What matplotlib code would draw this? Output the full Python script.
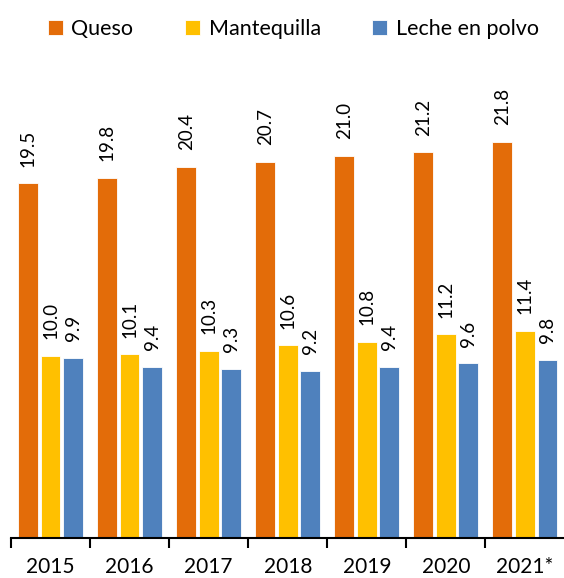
import matplotlib.pyplot as plt
import numpy as np

plt.rcParams['font.family'] = ['Lato', 'DejaVu Sans']

years = ['2015', '2016', '2017', '2018', '2019', '2020', '2021*']
queso = [19.5, 19.8, 20.4, 20.7, 21.0, 21.2, 21.8]
mantequilla = [10.0, 10.1, 10.3, 10.6, 10.8, 11.2, 11.4]
leche = [9.9, 9.4, 9.3, 9.2, 9.4, 9.6, 9.8]

series = [('Queso', queso, '#E36C09'),
          ('Mantequilla', mantequilla, '#FFC000'),
          ('Leche en polvo', leche, '#4F81BD')]

fig = plt.figure(figsize=(5.64, 5.78), dpi=100)
ax = fig.add_axes([11/564, 40/578, 555/564, 491/578])

x = np.arange(len(years))
w = 0.25
offs = [-0.285, 0, 0.285]
for (name, vals, col), off in zip(series, offs):
    bars = ax.bar(x + off, vals, w, color=col, edgecolor='white', linewidth=0.6, label=name)
    for b, v in zip(bars, vals):
        ax.annotate(f'{v:.1f}', (b.get_x() + b.get_width()/2, v), xytext=(0, 12),
                    textcoords='offset points', rotation=90, ha='center', va='bottom',
                    fontsize=13.5)

ax.set_xlim(-0.5, len(years) - 0.48)
ax.set_ylim(0, 27)
ax.set_yticks([])
for s in ['left', 'right', 'top']:
    ax.spines[s].set_visible(False)
ax.spines['bottom'].set_linewidth(1.5)
ax.set_xticks(x)
ax.set_xticklabels(years, fontsize=15)
ax.tick_params(axis='x', which='major', length=0, pad=14)
ax.set_xticks(np.arange(len(years)) - 0.5, minor=True)
ax.tick_params(axis='x', which='minor', length=7, width=1.5, direction='out')

fig.legend(loc='upper center', bbox_to_anchor=(0.52, 1.0), ncol=3, frameon=False,
           fontsize=15.5, handlelength=0.7, handleheight=0.7, handletextpad=0.4,
           columnspacing=2.4)

fig.savefig('out.png', dpi=100)
